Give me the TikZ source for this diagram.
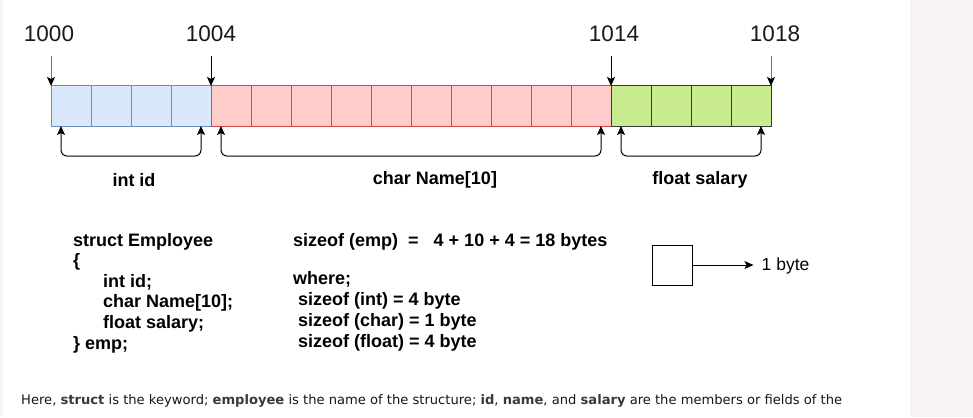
\documentclass[tikz,border=0pt]{standalone}
\usepackage{fontspec}
\setmainfont{Liberation Sans}
\newfontfamily\notefont{DejaVu Sans}
\usetikzlibrary{arrows.meta,positioning}
\definecolor{intfill}{HTML}{DAE8FC}
\definecolor{intline}{HTML}{6C8EBF}
\definecolor{charfill}{HTML}{FFCCCC}
\definecolor{charline}{HTML}{D04A4A}
\definecolor{floatfill}{HTML}{C9EB8F}
\definecolor{floatline}{HTML}{36393D}
\definecolor{pagestrip}{HTML}{F8F3F3}
\definecolor{notetext}{HTML}{1E1414}
\definecolor{notebold}{HTML}{3A3A3A}
\definecolor{tapgray}{HTML}{707070}
\tikzset{
  cell/.style={
    draw,
    line width=1pt,
    minimum size=40pt,
    inner sep=0pt,
    outer sep=0pt
  },
  intcell/.style={cell, fill=intfill, draw=intline},
  charcell/.style={cell, fill=charfill, draw=charline},
  floatcell/.style={cell, fill=floatfill, draw=floatline},
  addr/.style={font=\fontsize{22.5}{26}\selectfont, text=black!90, inner sep=2pt},
  addrtap/.style={-{Stealth[length=9pt,width=8pt,inset=2pt]}, line width=1pt},
  member/.style={
    {Stealth[length=9pt,width=8pt,inset=2pt]}-{Stealth[length=9pt,width=8pt,inset=2pt]},
    line width=1pt,
    rounded corners=6pt
  },
  fieldname/.style={font=\fontsize{18}{21}\selectfont\bfseries},
  codeline/.style={font=\fontsize{18}{21}\selectfont\bfseries, anchor=base west, inner sep=0pt},
  flow/.style={-{Stealth[length=9pt,width=8pt,inset=2pt]}, line width=1pt}
}

\begin{document}
\begin{tikzpicture}[x=1pt, y=-1pt]

% Page frame
\useasboundingbox (0,0) rectangle (973,417);
\fill[white] (0,0) rectangle (973,417);
\fill[pagestrip] (0,0) rectangle (3,417);
\fill[pagestrip] (910,0) rectangle (973,417);

% Memory cells
\foreach \i in {1,...,4} \node[intcell] (c\i) at (31+40*\i,106) {};
\foreach \i in {5,...,14} \node[charcell] (c\i) at (31+40*\i,106) {};
\foreach \i in {15,...,18} \node[floatcell] (c\i) at (31+40*\i,106) {};

% Addresses
\node[addr] (a1000) at (49,33.5) {1000};
\node[addr] (a1004) at (211,33.5) {1004};
\node[addr] (a1014) at (614,33.5) {1014};
\node[addr] (a1018) at (775,33.5) {1018};

\draw[addrtap, draw=tapgray, -{Stealth[length=9pt,width=8pt,inset=2pt,color=black]}] ([yshift=30pt]c1.north west) -- (c1.north west);
\draw[addrtap] ([yshift=30pt]c5.north west) -- (c5.north west);
\draw[addrtap] ([yshift=30pt]c15.north west) -- (c15.north west);
\draw[addrtap, draw=tapgray, -{Stealth[length=9pt,width=8pt,inset=2pt,color=black]}] ([yshift=30pt]c18.north east) -- (c18.north east);

% Member spans
\draw[member] ([xshift=10pt]c1.south west) -- ++(0,30) -| ([xshift=-10pt]c4.south east);
\draw[member] ([xshift=10pt]c5.south west) -- ++(0,30) -| ([xshift=-10pt]c14.south east);
\draw[member] ([xshift=10pt]c15.south west) -- ++(0,30) -| ([xshift=-10pt]c18.south east);

\node[fieldname] (lint) at (134,180) {int id};
\node[fieldname] (lchar) at (435,180) {char Name[10]};
\node[fieldname] (lfloat) at (700,180) {float salary};

% Structure declaration
\node[codeline] (s1) at (73,246) {struct Employee};
\node[codeline] (s2) at (73,266.6) {\{};
\node[codeline] (s3) at (103,287.2) {int id;};
\node[codeline] (s4) at (103,307.8) {char Name[10];};
\node[codeline] (s5) at (103,328.4) {float salary;};
\node[codeline] (s6) at (73,349) {\} emp;};

% Sizes
\node[codeline] (z1) at (293,246) {sizeof (emp)\ \ =\ \ \ 4 + 10 + 4 = 18 bytes};
\node[codeline] (z2) at (293,284) {where;};
\node[codeline] (z3) at (298,305) {sizeof (int) = 4 byte};
\node[codeline] (z4) at (298,326) {sizeof (char) = 1 byte};
\node[codeline] (z5) at (298,347) {sizeof (float) = 4 byte};

% Legend
\node[draw, line width=1pt, minimum size=40pt, inner sep=0pt] (unit) at (672,265) {};
\node[font=\fontsize{17.5}{20}\selectfont, right=67pt of unit, inner sep=2pt, yshift=-1pt] (unitlbl) {1 byte};
\draw[flow] (unit) -- (unit -| unitlbl.west) [shorten >=6pt];

% Caption line
\node[anchor=base west, inner sep=0pt, text=notetext, font=\notefont\fontsize{13.1}{15}\selectfont] (caption) at (21,404)
  {Here, \textcolor{notebold}{\bfseries struct} is the keyword; \textcolor{notebold}{\bfseries employee} is the name of the structure; \textcolor{notebold}{\bfseries id}, \textcolor{notebold}{\bfseries name}, and \textcolor{notebold}{\bfseries salary} are the members or fields of the};

\end{tikzpicture}
\end{document}
